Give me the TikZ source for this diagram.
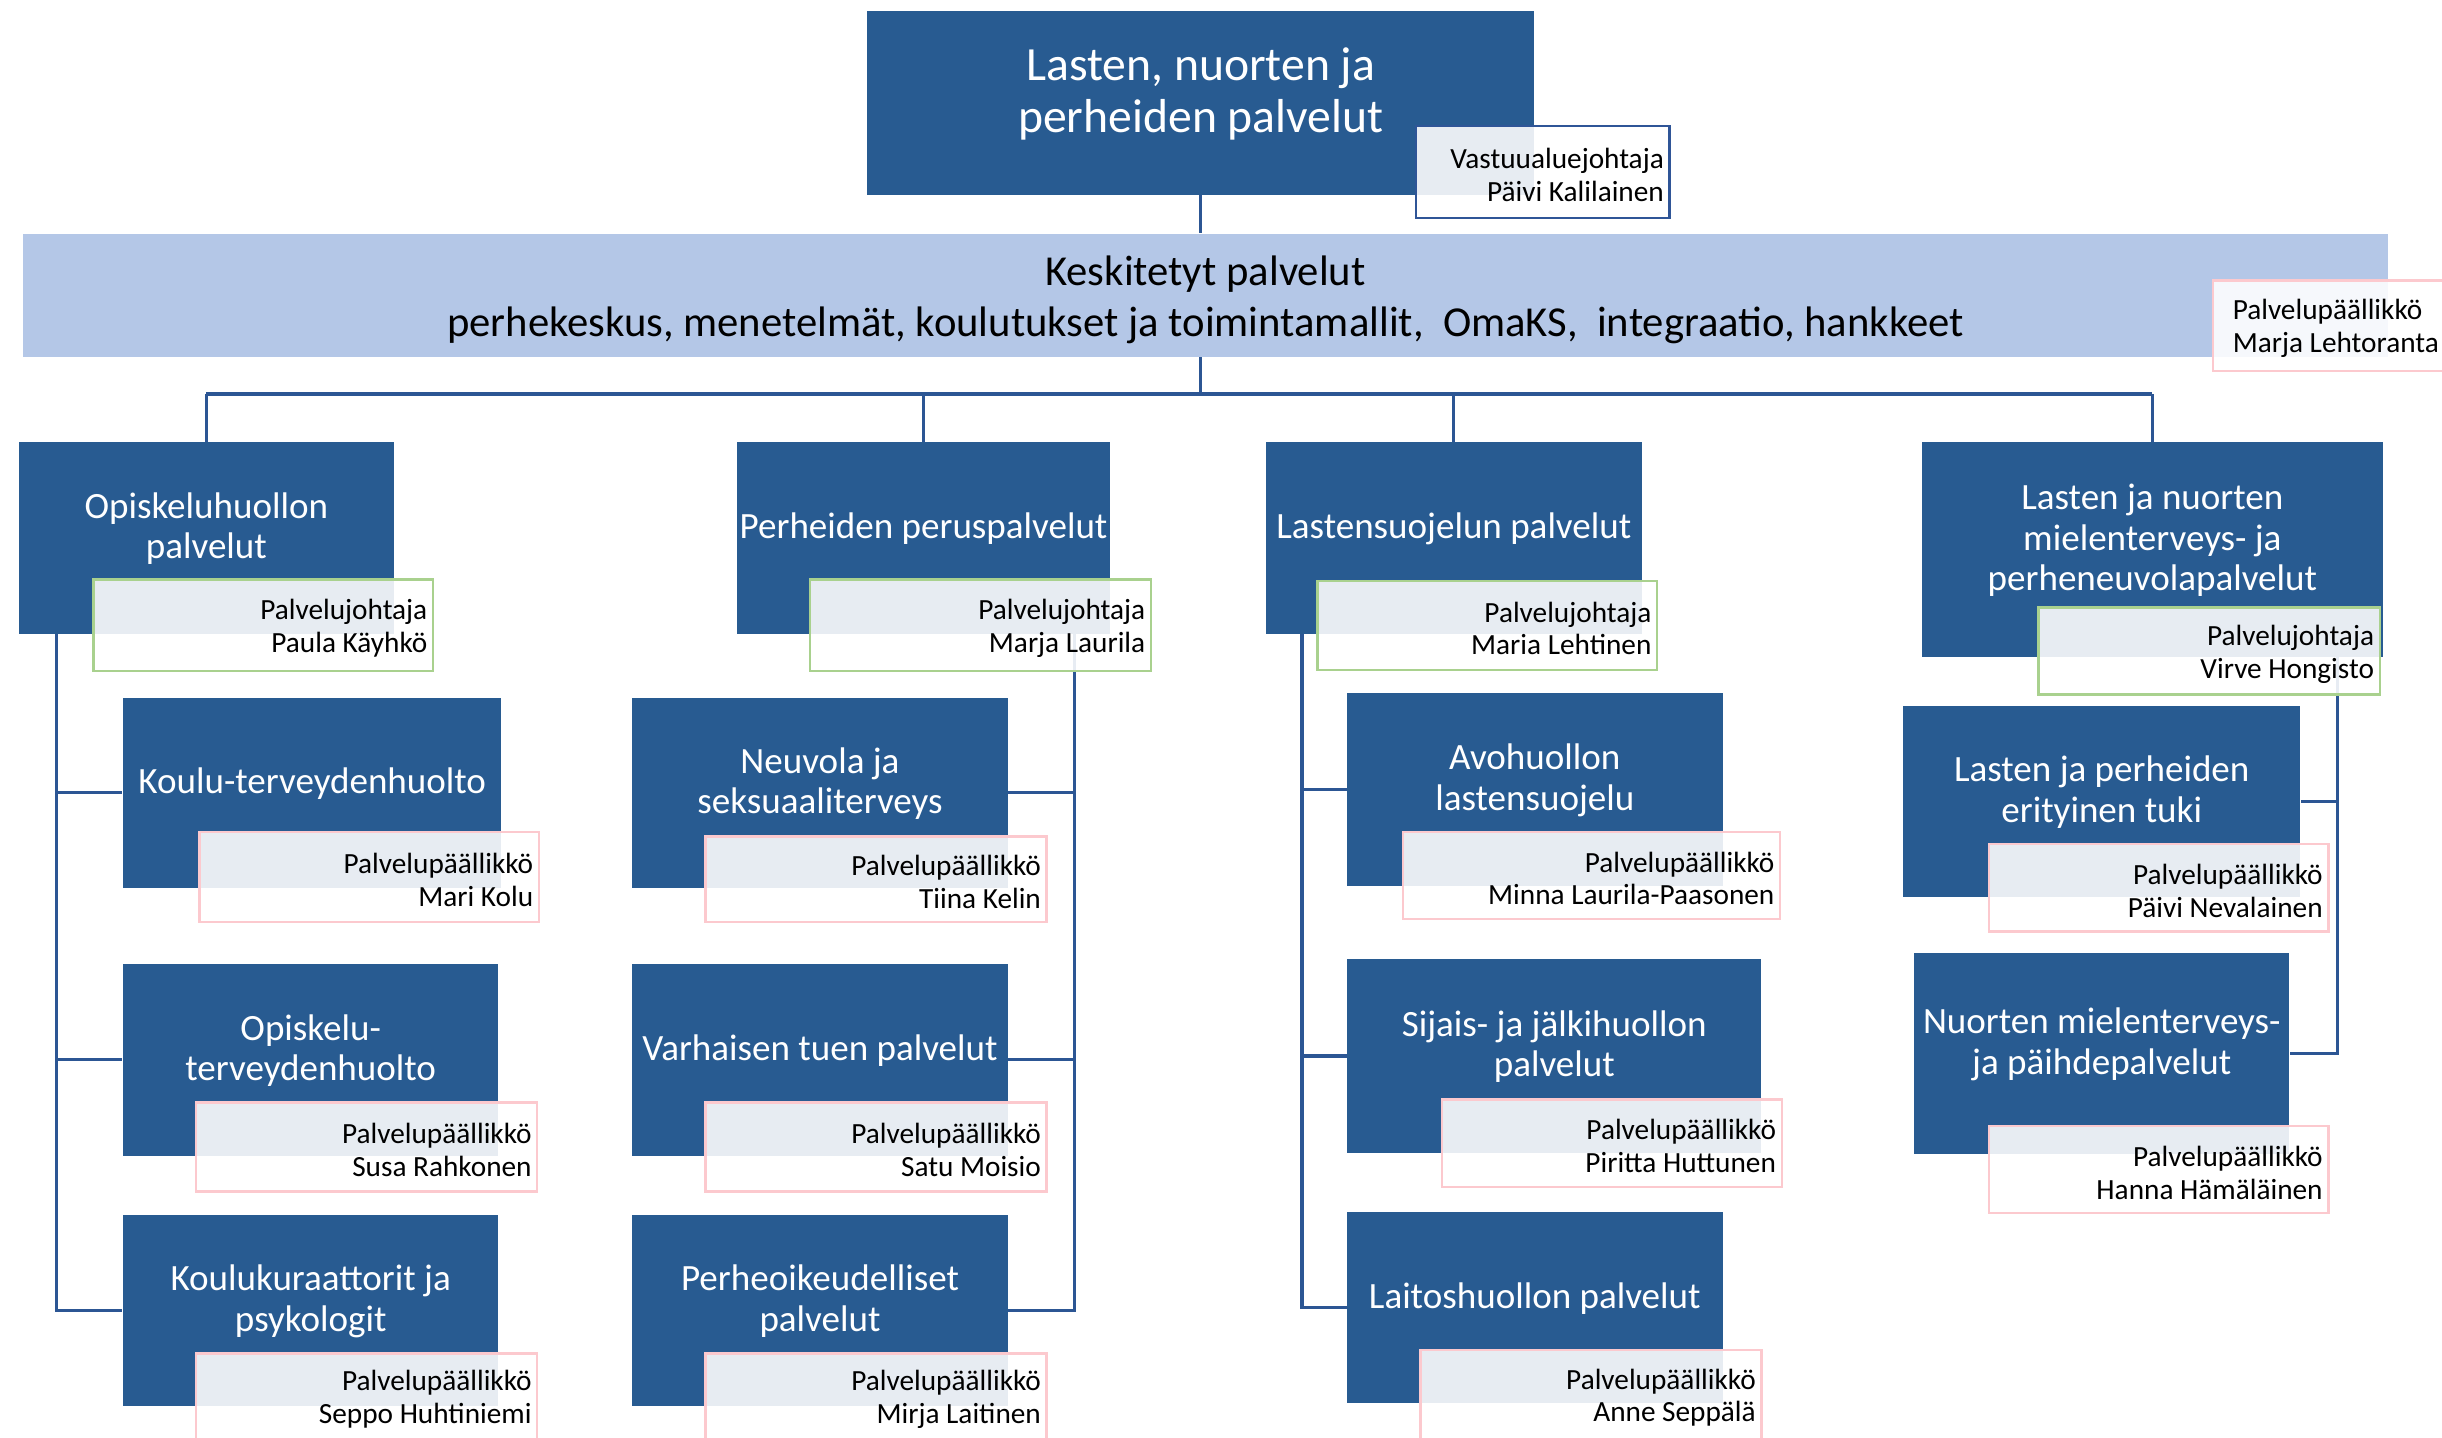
\documentclass[tikz,border=0pt]{standalone}
\usepackage{fontspec}
\setmainfont{Carlito}
\usetikzlibrary{fit}
\pgfdeclarelayer{bg}
\pgfsetlayers{bg,main}
\definecolor{dblue}{RGB}{40,91,145}
\definecolor{lblue}{RGB}{180,199,231}
\definecolor{lnblue}{RGB}{44,86,148}
\definecolor{gborder}{RGB}{169,209,142}
\definecolor{pborder}{RGB}{252,201,206}
\definecolor{tborder}{RGB}{47,85,151}
\tikzset{
  obox/.style={fill=dblue, draw=none, inner sep=0pt},
  otext/.style={text=white, align=center, inner sep=0pt, font=\fontsize{11.9}{13}\selectfont},
  lbox/.style={fill=white, fill opacity=0.89, line width=0.75pt, inner sep=0pt},
  ltext/.style={text=black, align=right, inner sep=0pt, font=\fontsize{9.4}{10.5}\selectfont},
  conn/.style={draw=lnblue, line width=1pt}
}
\newcommand\obx[6]{\node[obox, fit={(#2,#3) (#4,#5)}] (#1) {};
  \node[otext] (#1t) at ([yshift=3pt]#1.center) {#6};}
\newcommand\lbl[7]{\node[lbox, draw=#6, fit={(#2,#3) (#4,#5)}] (#1) {};
  \node[ltext, anchor=east] (#1t) at ([xshift=-2pt,yshift=-1pt]#1.east) {#7};}
\begin{document}
\begin{tikzpicture}[x=0.5pt,y=-0.5pt]
\useasboundingbox (0,0) rectangle (1568,923);
\begin{scope}
\clip (0,0) rectangle (1568,923);
% top
\node[obox, fit={(557,7) (985,125)}] (top) {};
\node[text=white, align=center, inner sep=0pt, font=\fontsize{15.3}{16.7}\selectfont] (topt) at ([yshift=3pt]top.center) {Lasten, nuorten ja\\perheiden palvelut};
% band
\node[fill=lblue, inner sep=0pt, fit={(15,150) (1533,229)}] (band) {};
\node[align=center, inner sep=0pt, font=\fontsize{13.7}{16.5}\selectfont] (bandt) at ([yshift=-1.5pt]band.center) {Keskitetyt palvelut\\perhekeskus, menetelmät, koulutukset ja toimintamallit,\ \ OmaKS,\ \ integraatio, hankkeet};
% level 2
\obx{c1}{12}{284}{253}{407}{Opiskeluhuollon\\palvelut}
\obx{c2}{473}{284}{713}{407}{Perheiden peruspalvelut}
\obx{c3}{813}{284}{1054}{407}{Lastensuojelun palvelut}
\obx{c4}{1234}{284}{1530}{422}{Lasten ja nuorten\\mielenterveys- ja\\perheneuvolapalvelut}
% children col 1
\obx{k11}{79}{448}{322}{570}{Koulu-terveydenhuolto}
\obx{k12}{79}{619}{320}{742}{Opiskelu-\\terveydenhuolto}
\obx{k13}{79}{780}{320}{903}{Koulukuraattorit ja\\psykologit}
% col 2
\obx{k21}{406}{448}{647}{570}{Neuvola ja\\seksuaaliterveys}
\obx{k22}{406}{619}{647}{742}{Varhaisen tuen palvelut}
\obx{k23}{406}{780}{647}{903}{Perheoikeudelliset\\palvelut}
% col 3
\obx{k31}{865}{445}{1106}{569}{Avohuollon\\lastensuojelu}
\obx{k32}{865}{616}{1131}{740}{Sijais- ja jälkihuollon\\palvelut}
\obx{k33}{865}{778}{1106}{901}{Laitoshuollon palvelut}
% col 4
\obx{k41}{1222}{453}{1477}{576}{Lasten ja perheiden\\erityinen tuki}
\obx{k42}{1229}{612}{1470}{741}{Nuorten mielenterveys-\\ja päihdepalvelut}
% labels
\lbl{ltop}{909}{81}{1072}{140}{tborder}{Vastuualuejohtaja\\Päivi Kalilainen}
\node[lbox, draw=pborder, fit={(1421,180) (1575,238)}] (lband) {};
\node[ltext, align=left, anchor=west] (lbandt) at ([xshift=6.5pt,yshift=-1pt]lband.west) {Palvelupäällikkö\\Marja Lehtoranta};
\lbl{l1}{60}{372}{278}{431}{gborder}{Palvelujohtaja\\Paula Käyhkö}
\lbl{l2}{520}{372}{739}{431}{gborder}{Palvelujohtaja\\Marja Laurila}
\lbl{l3}{846}{373}{1064}{430}{gborder}{Palvelujohtaja\\Maria Lehtinen}
\lbl{l4}{1309}{390}{1528}{446}{gborder}{Palvelujohtaja\\Virve Hongisto}
\lbl{m11}{128}{534}{346}{592}{pborder}{Palvelupäällikkö\\Mari Kolu}
\lbl{m12}{126}{708}{345}{765}{pborder}{Palvelupäällikkö\\Susa Rahkonen}
\lbl{m13}{126}{869}{345}{924}{pborder}{Palvelupäällikkö\\Seppo Huhtiniemi}
\lbl{m21}{453}{537}{672}{592}{pborder}{Palvelupäällikkö\\Tiina Kelin}
\lbl{m22}{453}{708}{672}{765}{pborder}{Palvelupäällikkö\\Satu Moisio}
\lbl{m23}{453}{869}{672}{924}{pborder}{Palvelupäällikkö\\Mirja Laitinen}
\lbl{m31}{901}{534}{1143}{590}{pborder}{Palvelupäällikkö\\Minna Laurila-Paasonen}
\lbl{m32}{926}{706}{1144}{762}{pborder}{Palvelupäällikkö\\Piritta Huttunen}
\lbl{m33}{912}{867}{1131}{924}{pborder}{Palvelupäällikkö\\Anne Seppälä}
\lbl{m41}{1277}{542}{1495}{598}{pborder}{Palvelupäällikkö\\Päivi Nevalainen}
\lbl{m42}{1277}{723}{1495}{779}{pborder}{Palvelupäällikkö\\Hanna Hämäläinen}
\end{scope}
% connectors
\begin{pgfonlayer}{bg}
\coordinate (bus) at (771,253);
\coordinate (s1) at (36,407);
\coordinate (s2) at (690,407);
\coordinate (s3) at (836,407);
\coordinate (s4) at (1501,422);
\draw[conn] (top.south -| bus) -- (band.north -| bus);
\draw[conn] (band.south -| bus) -- (bus);
\draw[conn] (c1.north |- bus) -- (c4.north |- bus);
\draw[conn] (c1.north |- bus) -- (c1.north);
\draw[conn] (c2.north |- bus) -- (c2.north);
\draw[conn] (c3.north |- bus) -- (c3.north);
\draw[conn] (c4.north |- bus) -- (c4.north);
\draw[conn] (s1) |- (k11.west);
\draw[conn] (s1) |- (k12.west);
\draw[conn] (s1) |- (k13.west);
\draw[conn] (s2) |- (k21.east);
\draw[conn] (s2) |- (k22.east);
\draw[conn] (s2) |- (k23.east);
\draw[conn] (s3) |- (k31.west);
\draw[conn] (s3) |- (k32.west);
\draw[conn] (s3) |- (k33.west);
\draw[conn] (s4) |- (k41.east);
\draw[conn] (s4) |- (k42.east);
\end{pgfonlayer}
\end{tikzpicture}
\end{document}
